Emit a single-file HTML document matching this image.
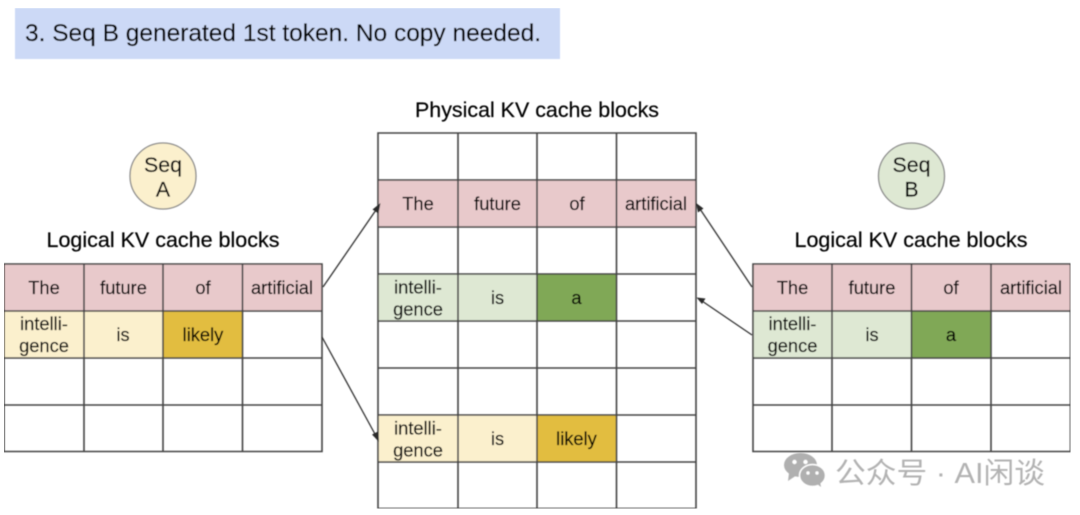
<!DOCTYPE html>
<html><head><meta charset="utf-8">
<style>
html,body{margin:0;padding:0;background:#fff;width:1080px;height:515px;overflow:hidden}
svg{display:block}
text{font-family:"Liberation Sans","Noto Sans CJK SC",sans-serif;fill:#000;stroke:#000;stroke-width:.2;text-anchor:middle;font-size:18.3px}
.g path{fill:none;stroke:#444;stroke-width:1.6}
.ar{stroke:#333;stroke-width:1.3;fill:none}
.h{fill:#2a2a2a}
</style></head><body>
<svg width="1080" height="515" viewBox="0 0 1080 515" xmlns="http://www.w3.org/2000/svg">
<g filter="url(#b)">
<defs><filter id="b" x="0" y="0" width="100%" height="100%"><feGaussianBlur stdDeviation="0.45"/></filter></defs>
<rect x="15" y="8" width="545" height="51" fill="#ccd9f6"/>
<text x="283" y="41" style="font-size:24px" textLength="516" lengthAdjust="spacingAndGlyphs">3. Seq B generated 1st token. No copy needed.</text>

<text x="537" y="117" style="font-size:21.3px" textLength="244" lengthAdjust="spacingAndGlyphs">Physical KV cache blocks</text>
<text x="163" y="247" style="font-size:21.3px" textLength="233" lengthAdjust="spacingAndGlyphs">Logical KV cache blocks</text>
<text x="911" y="247" style="font-size:21.3px" textLength="233" lengthAdjust="spacingAndGlyphs">Logical KV cache blocks</text>

<circle cx="163" cy="176" r="33" fill="#fbf0cd" stroke="#8a8a8a" stroke-width="1.3"/>
<text x="163" y="172" style="font-size:21.3px">Seq</text>
<text x="163" y="196.500" style="font-size:21.3px">A</text>
<circle cx="911.5" cy="176" r="33" fill="#deE8d3" stroke="#8a8a8a" stroke-width="1.3"/>
<text x="911.5" y="172" style="font-size:21.3px">Seq</text>
<text x="911.5" y="196.500" style="font-size:21.3px">B</text>

<!-- left table -->
<rect x="4" y="264" width="318" height="47" fill="#e8c9cb"/>
<rect x="4" y="311" width="159" height="47" fill="#fbf0cd"/>
<rect x="163" y="311" width="79.5" height="47" fill="#e2bd3f"/>
<g class="g"><path d="M4 264H322V451.500H4ZM84 264V451.500M163 264V451.500M242.500 264V451.500M4 311H322M4 358H322M4 405H322"/></g>
<text x="44" y="294">The</text><text x="123.500" y="294">future</text><text x="203" y="294">of</text><text x="282" y="294">artificial</text>
<text x="44" y="330">intelli-</text><text x="44" y="352">gence</text><text x="123" y="341">is</text><text x="203" y="341">likely</text>

<!-- center table -->
<rect x="378" y="180" width="318" height="47" fill="#e8c9cb"/>
<rect x="378" y="274" width="159" height="47" fill="#deE8d3"/>
<rect x="537" y="274" width="79.5" height="47" fill="#80a856"/>
<rect x="378" y="415" width="159" height="47" fill="#fbf0cd"/>
<rect x="537" y="415" width="79.5" height="47" fill="#e2bd3f"/>
<g class="g"><path d="M378 133H696V508.500H378ZM458 133V508.500M537 133V508.500M616.500 133V508.500M378 180H696M378 227H696M378 274H696M378 321H696M378 368H696M378 415H696M378 462H696"/></g>
<text x="418" y="210">The</text><text x="497.500" y="210">future</text><text x="577" y="210">of</text><text x="656" y="210">artificial</text>
<text x="418" y="293.500">intelli-</text><text x="418" y="315.500">gence</text><text x="497.500" y="304">is</text><text x="576.500" y="304">a</text>
<text x="418" y="434.500">intelli-</text><text x="418" y="456.500">gence</text><text x="497.500" y="445">is</text><text x="576.500" y="445">likely</text>

<!-- right table -->
<rect x="753" y="264" width="317.5" height="47" fill="#e8c9cb"/>
<rect x="753" y="311" width="158.5" height="47" fill="#deE8d3"/>
<rect x="911.5" y="311" width="79.5" height="47" fill="#80a856"/>
<g class="g"><path d="M753 264H1070.500V451.500H753ZM832 264V451.500M911.500 264V451.500M991 264V451.500M753 311H1070.500M753 358H1070.500M753 405H1070.500"/></g>
<text x="792.500" y="294">The</text><text x="872" y="294">future</text><text x="951" y="294">of</text><text x="1031" y="294">artificial</text>
<text x="792.500" y="330">intelli-</text><text x="792.500" y="352">gence</text><text x="872" y="341">is</text><text x="951" y="341">a</text>

<!-- arrows -->
<path class="ar" d="M323 287L376 210"/>
<path class="h" d="M380.500 203L378.500 213.500L372.500 209.500Z"/>
<path class="ar" d="M322 337L375.500 435"/>
<path class="h" d="M379 442L372 434.500L378 431.500Z"/>
<path class="ar" d="M752 287L700 209"/>
<path class="h" d="M696 203L703.500 208.500L698 212.500Z"/>
<path class="ar" d="M752 335L702 301"/>
<path class="h" d="M696.500 297.500L705.500 298.500L702 304Z"/>

<!-- watermark -->
<g fill="#b0b0b0">
<ellipse cx="800.500" cy="465" rx="16.500" ry="12"/>
<path d="M789 473L788 481L797 475Z"/>
<ellipse cx="812.500" cy="475.500" rx="13" ry="11" stroke="#fff" stroke-width="1.5"/>
<path d="M817 484L821 487L820 481Z"/>
</g>
<g fill="#fff">
<circle cx="794.500" cy="462" r="2.200"/><circle cx="805.500" cy="462" r="2.200"/>
<circle cx="808" cy="473" r="1.700"/><circle cx="817" cy="473" r="1.700"/>
</g>
<text x="940" y="483" style="font-size:29px;fill:#b2b2b2;stroke:none" textLength="210" lengthAdjust="spacingAndGlyphs">公众号 · AI闲谈</text>
</g>
</svg>
</body></html>
